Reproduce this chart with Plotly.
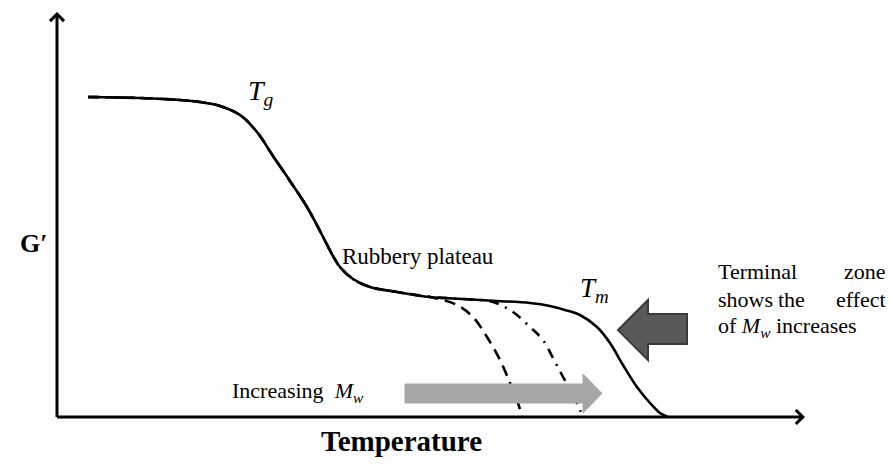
import plotly.graph_objects as go

# ---- data (arbitrary units: temperature from the origin, modulus above the T axis) ----
temp_solid = [31, 83, 123, 143, 163, 183, 200, 216, 233, 250, 263, 276, 283, 296, 313,
              340, 373, 406, 440, 473, 493, 508, 523, 540, 553, 566, 580, 593, 603, 611]
modulus_solid = [320, 319, 317, 315, 311, 302, 285, 261, 236, 210, 186, 161, 150, 138, 130,
                 125, 120, 118, 116, 114, 111, 107, 102, 90, 74, 52, 30, 14, 4, 0]

temp_dash = [31, 83, 123, 143, 163, 183, 200, 216, 233, 250, 263, 276, 283, 296, 313,
             340, 373, 386, 400, 416, 430, 443, 453, 461, 465]
modulus_dash = [320, 319, 317, 315, 311, 302, 285, 261, 236, 210, 186, 161, 150, 138, 130,
                125, 120, 117, 112, 100, 80, 57, 34, 14, 0]

temp_dashdot = [31, 83, 123, 143, 163, 183, 200, 216, 233, 250, 263, 276, 283, 296, 313,
                340, 373, 406, 436, 456, 473, 486, 496, 505, 515, 523, 526]
modulus_dashdot = [320, 319, 317, 315, 311, 302, 285, 261, 236, 210, 186, 161, 150, 138, 130,
                   125, 120, 118, 115, 105, 90, 77, 59, 42, 24, 7, 0]

# ---- layout helpers (pixel position -> axis units) ----
X0, Y0 = 57, 417  # origin pixel


def px(x):
    return x - X0


def py(y):
    return Y0 - y


FONT = "Liberation Serif"

fig = go.Figure()
fig.add_trace(go.Scatter(x=temp_dash, y=modulus_dash, mode="lines", line_shape="spline",
                         line=dict(color="black", width=2.6, dash="11px,7px"), hoverinfo="skip"))
fig.add_trace(go.Scatter(x=temp_dashdot, y=modulus_dashdot, mode="lines", line_shape="spline",
                         line=dict(color="black", width=2.6, dash="10px,7px,2px,7px"), hoverinfo="skip"))
fig.add_trace(go.Scatter(x=temp_solid, y=modulus_solid, mode="lines", line_shape="spline",
                         line=dict(color="black", width=2.6), hoverinfo="skip"))

shapes = []
# light gray arrow (Increasing Mw)
gx = [405, 583, 583, 602, 583, 583, 405]
gy = [384, 384, 374, 393.5, 413, 403, 403]
path = "M " + " L ".join(f"{px(a)},{py(b)}" for a, b in zip(gx, gy)) + " Z"
shapes.append(dict(type="path", path=path, xref="x", yref="y",
                   fillcolor="#a6a6a6", line=dict(color="#a6a6a6", width=1)))
# dark arrow (terminal zone)
dx = [687, 648, 648, 618, 648, 648, 687]
dy = [314, 314, 300, 330, 360, 344, 344]
path = "M " + " L ".join(f"{px(a)},{py(b)}" for a, b in zip(dx, dy)) + " Z"
shapes.append(dict(type="path", path=path, xref="x", yref="y",
                   fillcolor="#595959", line=dict(color="#3a3a3a", width=2)))

annotations = []
# axes with open arrowheads
annotations.append(dict(x=px(805), y=py(417), ax=px(55.5), ay=py(417), xref="x", yref="y",
                        axref="x", ayref="y", text="", showarrow=True, arrowhead=4,
                        arrowsize=0.9, arrowwidth=3, arrowcolor="black"))
annotations.append(dict(x=px(57), y=py(12), ax=px(57), ay=py(418.5), xref="x", yref="y",
                        axref="x", ayref="y", text="", showarrow=True, arrowhead=4,
                        arrowsize=0.9, arrowwidth=3, arrowcolor="black"))


def txt(x, y, s, size=20, xanchor="left"):
    annotations.append(dict(x=px(x), y=py(y), xref="x", yref="y", text=s, showarrow=False,
                            xanchor=xanchor, yanchor="middle",
                            font=dict(family=FONT, size=size, color="black")))


txt(246, 92, "<i>T</i><sub><i>g</i></sub>", size=28)
txt(340, 256, "Rubbery plateau", size=23)
txt(578, 290, "<i>T</i><sub><i>m</i></sub>", size=27)
txt(716, 271, "Terminal", size=22)
txt(888, 271, "zone", size=22, xanchor="right")
txt(716, 299, "shows", size=22)
txt(776, 299, "the", size=22)
txt(888, 299, "effect", size=22, xanchor="right")
txt(716, 327, "of <i>M</i><sub><i>w</i></sub> increases", size=22)
txt(230, 392, "Increasing  <i>M</i><sub><i>w</i></sub>", size=22)
txt(18, 243, "<b>G′</b>", size=26)
txt(401, 441, "<b>Temperature</b>", size=29, xanchor="center")

fig.update_layout(
    width=890, height=467,
    margin=dict(l=0, r=0, t=0, b=0),
    paper_bgcolor="white", plot_bgcolor="white",
    showlegend=False,
    xaxis=dict(range=[px(0), px(890)], visible=False, fixedrange=True),
    yaxis=dict(range=[py(467), py(0)], visible=False, fixedrange=True),
    shapes=shapes,
    annotations=annotations,
)

fig.write_html("out.html", post_script="document.body.style.margin='0';",
               config={"displayModeBar": False})
